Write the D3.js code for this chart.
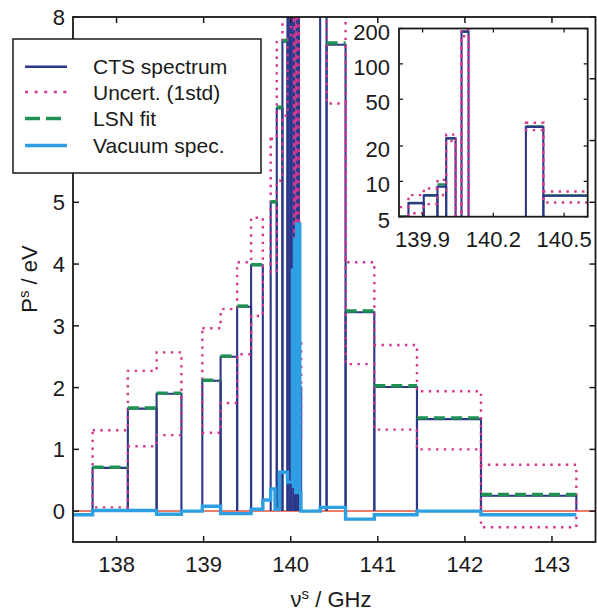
<!DOCTYPE html>
<html><head><meta charset="utf-8">
<script src="https://cdn.jsdelivr.net/npm/d3@7"></script>
<style>
body{margin:0;background:#fff;}
svg{display:block;}
text{font-family:"Liberation Sans",Arial,Helvetica,sans-serif;fill:#1a1a1a;}
</style></head><body>
<svg id="chart" width="597" height="612"></svg>
<script>
// ---------- data ----------
// CTS spectrum channels (GHz)
const chanStart = [137.725,138.13,138.46,138.985,139.195,139.385,139.545,139.77,139.84,139.905,139.963,140.0,140.04,140.065,140.095,140.338,140.412,140.63,140.96,141.45,142.185];
const chanEnd   = [138.13,138.46,138.745,139.195,139.385,139.545,139.68,139.84,139.905,139.963,140.0,140.04,140.065,140.095,140.12,140.412,140.63,140.96,141.45,142.185,143.28];
const ctsValues = [0.70,1.66,1.90,2.11,2.50,3.31,3.98,5.00,6.52,7.60,9.0,23.2,3.5,188,2.0,29.1,7.55,3.22,2.01,1.49,0.25];
const uncLow    = [0.06,1.05,1.23,1.27,1.75,2.54,3.16,3.87,5.35,6.40,7.65,22.0,2.6,172,1.2,27.3,6.6,2.38,1.32,1.00,-0.26];
const uncHigh   = [1.31,2.27,2.57,2.96,3.27,4.03,4.75,6.03,7.63,8.70,10.3,25.0,4.4,195,2.8,31.5,8.2,4.03,2.69,1.94,0.75];
const fitValues = [0.71,1.67,1.91,2.12,2.51,3.32,3.99,5.01,6.54,7.62,9.4,23.3,3.5,188,2.0,29.2,7.58,3.24,2.03,1.51,0.27];
// Vacuum spectrum (edges n+1, values n)
const vacEdges  = [137.5,137.725,138.46,138.745,138.985,139.195,139.545,139.68,139.77,139.82,139.87,139.963,140.02,140.032,140.044,140.056,140.068,140.08,140.092,140.104,140.116,140.338,140.63,140.96,141.45,142.185,143.28];
const vacValues = [-0.06,0.01,-0.05,0.0,0.08,-0.04,0.03,0.18,0.36,0.03,0.63,0.47,3.9,0.4,4.4,0.3,4.65,0.4,4.65,0.3,0.0,0.06,-0.13,-0.06,0.0,-0.06];
// ticks
const xTicks = [138,139,140,141,142,143];
const yTicks = [0,1,2,3,4,5,6,7,8];
const xTicksInset = [139.9,140.2,140.5];
const yTicksInset = [5,10,20,50,100,200];
const legendLabels = ["CTS spectrum","Uncert. (1std)","LSN fit","Vacuum spec."];

// ---------- style ----------
const C = {cts:"#2c3786", ctsFill:"#34449e", unc:"#d2378c", fit:"#1f9152", vac:"#2f9fe4", zero:"#e8503a", axis:"#1a1a1a"};

const svg = d3.select("#chart");
const M = {left:73, right:595.5, top:17, bottom:542};
const x = d3.scaleLinear().domain([137.5,143.5]).range([M.left,M.right]);
const y = d3.scaleLinear().domain([-0.5,8]).range([M.bottom,M.top]);
const I = {left:399, right:587.7, top:28.5, bottom:216.7};
const xi = d3.scaleLinear().domain([139.8,140.6]).range([I.left,I.right]);
const yi = d3.scaleLog().domain([5,200]).range([I.bottom,I.top]);

// contiguous runs of channels (for the uncertainty band outline)
const runs = [];
{ let cur=[0];
  for (let i=1;i<chanStart.length;i++){
    if (Math.abs(chanStart[i]-chanEnd[i-1])<1e-9) cur.push(i); else {runs.push(cur); cur=[i];}
  }
  runs.push(cur);
}
function stairs(run, arr){ const p=[]; run.forEach(i=>{p.push([chanStart[i],arr[i]]);p.push([chanEnd[i],arr[i]]);}); return p; }

const defs = svg.append("defs");
defs.append("clipPath").attr("id","clipMain").append("rect")
  .attr("x",M.left).attr("y",M.top).attr("width",M.right-M.left).attr("height",M.bottom-M.top);
defs.append("clipPath").attr("id","clipInset").append("rect")
  .attr("x",I.left).attr("y",I.top).attr("width",I.right-I.left).attr("height",I.bottom-I.top);

function drawPanel(g, sx, sy, floor, inset){
  const line = d3.line().x(d=>sx(d[0])).y(d=>sy(Math.max(d[1],floor)));
  const base = inset ? floor : 0;
  if(!inset){
    g.append("line").attr("x1",M.left).attr("x2",M.right).attr("y1",sy(0)).attr("y2",sy(0))
      .attr("stroke",C.zero).attr("stroke-width",1.5);
  }
  const drawFit = ()=>{
    chanStart.forEach((s,i)=>{
      g.append("path").attr("d",line([[s,fitValues[i]],[chanEnd[i],fitValues[i]]]))
        .attr("fill","none").attr("stroke",C.fit).attr("stroke-width",inset?2.6:3.4)
        .attr("stroke-dasharray",inset?null:"11,6");
    });
  };
  if(inset) drawFit();
  // CTS spectrum: one outlined bar per channel
  chanStart.forEach((s,i)=>{
    const pts=[[s,base],[s,ctsValues[i]],[chanEnd[i],ctsValues[i]],[chanEnd[i],base]];
    const narrow = !inset && (sx(chanEnd[i])-sx(s)) < 4;
    g.append("path").attr("d",line(pts))
      .attr("fill", narrow ? C.ctsFill : "none")
      .attr("stroke",C.cts).attr("stroke-width",2.1);
  });
  // uncertainty band
  runs.forEach(run=>{
    const up=stairs(run,uncHigh), lo=stairs(run,uncLow).reverse();
    g.append("path").attr("d",line([...up,...lo])+"Z").attr("fill","none").attr("stroke",C.unc)
      .attr("stroke-width",2.4).attr("stroke-dasharray","2.4,5.4");
  });
  if(!inset) drawFit();
  if(!inset){
    const vp=[]; vacValues.forEach((v,i)=>{vp.push([vacEdges[i],v]);vp.push([vacEdges[i+1],v]);});
    g.append("path").attr("d",line(vp)).attr("fill","none").attr("stroke",C.vac).attr("stroke-width",3.4);
  }
}

// ---------- main panel ----------
const gMain = svg.append("g").attr("clip-path","url(#clipMain)");
drawPanel(gMain, x, y, -10, false);

// main axes box and ticks
const ax = svg.append("g");
ax.append("rect").attr("x",M.left).attr("y",M.top).attr("width",M.right-M.left).attr("height",M.bottom-M.top)
  .attr("fill","none").attr("stroke",C.axis).attr("stroke-width",1.8);
xTicks.forEach(t=>{
  ax.append("line").attr("x1",x(t)).attr("x2",x(t)).attr("y1",M.bottom).attr("y2",M.bottom-6).attr("stroke",C.axis).attr("stroke-width",1.5);
  ax.append("line").attr("x1",x(t)).attr("x2",x(t)).attr("y1",M.top).attr("y2",M.top+6).attr("stroke",C.axis).attr("stroke-width",1.5);
  ax.append("text").attr("x",x(t)).attr("y",572).attr("text-anchor","middle").attr("font-size",22).text(t);
});
yTicks.forEach(t=>{
  ax.append("line").attr("x1",M.left).attr("x2",M.left+6).attr("y1",y(t)).attr("y2",y(t)).attr("stroke",C.axis).attr("stroke-width",1.5);
  ax.append("line").attr("x1",M.right).attr("x2",M.right-6).attr("y1",y(t)).attr("y2",y(t)).attr("stroke",C.axis).attr("stroke-width",1.5);
  ax.append("text").attr("x",65).attr("y",y(t)+8).attr("text-anchor","end").attr("font-size",22).text(t);
});
// axis labels
const yl = svg.append("text").attr("transform","translate(37,279) rotate(-90)").attr("text-anchor","middle").attr("font-size",22);
yl.append("tspan").text("P");
yl.append("tspan").attr("dy",-8).attr("font-size",15).text("s");
yl.append("tspan").attr("dy",8).text(" / eV");
const xl = svg.append("text").attr("x",331).attr("y",607).attr("text-anchor","middle").attr("font-size",22);
xl.append("tspan").text("ν");
xl.append("tspan").attr("dy",-8).attr("font-size",15).text("s");
xl.append("tspan").attr("dy",8).text(" / GHz");

// ---------- legend ----------
const lg = svg.append("g");
lg.append("rect").attr("x",13).attr("y",39).attr("width",248).attr("height",134).attr("fill","#fff")
  .attr("stroke",C.axis).attr("stroke-width",1.5);
const rows=[66.7,92,118.5,145.5];
const lstyle=[{c:C.cts,w:2.6,d:null},{c:C.unc,w:2.6,d:"3,6.6"},{c:C.fit,w:3.6,d:"15,6"},{c:C.vac,w:3.6,d:null}];
legendLabels.forEach((lab,i)=>{
  lg.append("line").attr("x1",25).attr("x2",67).attr("y1",rows[i]).attr("y2",rows[i])
    .attr("stroke",lstyle[i].c).attr("stroke-width",lstyle[i].w).attr("stroke-dasharray",lstyle[i].d);
  lg.append("text").attr("x",93).attr("y",rows[i]+7.5).attr("font-size",21).text(lab);
});

// ---------- inset ----------
const gi = svg.append("g");
gi.append("rect").attr("x",I.left).attr("y",I.top).attr("width",I.right-I.left).attr("height",I.bottom-I.top).attr("fill","#fff");
const giClip = gi.append("g").attr("clip-path","url(#clipInset)");
drawPanel(giClip, xi, yi, 0.5, true);
gi.append("rect").attr("x",I.left).attr("y",I.top).attr("width",I.right-I.left).attr("height",I.bottom-I.top)
  .attr("fill","none").attr("stroke",C.axis).attr("stroke-width",1.8);
xTicksInset.forEach(t=>{
  gi.append("line").attr("x1",xi(t)).attr("x2",xi(t)).attr("y1",I.bottom).attr("y2",I.bottom-4).attr("stroke",C.axis).attr("stroke-width",1.3);
  gi.append("line").attr("x1",xi(t)).attr("x2",xi(t)).attr("y1",I.top).attr("y2",I.top+4).attr("stroke",C.axis).attr("stroke-width",1.3);
  gi.append("text").attr("x",xi(t)).attr("y",247).attr("text-anchor","middle").attr("font-size",22).text(t.toFixed(1));
});
yTicksInset.forEach(t=>{
  gi.append("line").attr("x1",I.left).attr("x2",I.left+4).attr("y1",yi(t)).attr("y2",yi(t)).attr("stroke",C.axis).attr("stroke-width",1.3);
  gi.append("line").attr("x1",I.right).attr("x2",I.right-4).attr("y1",yi(t)).attr("y2",yi(t)).attr("stroke",C.axis).attr("stroke-width",1.3);
  gi.append("text").attr("x",390).attr("y",yi(t)+11).attr("text-anchor","end").attr("font-size",22).text(t);
});
</script>
</body></html>
